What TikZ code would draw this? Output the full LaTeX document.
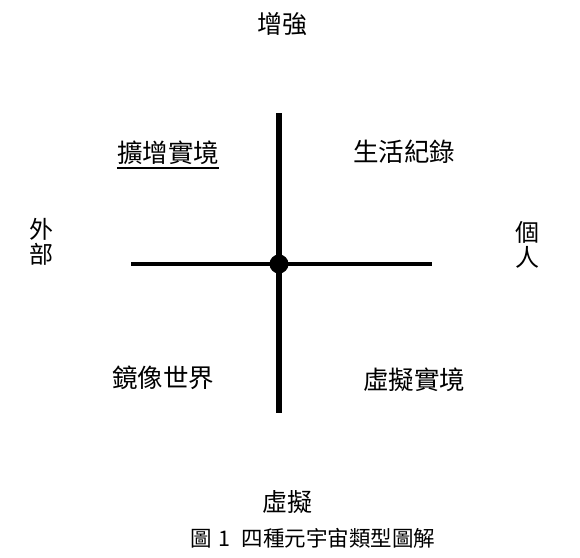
\documentclass[tikz,border=0pt]{standalone}
\usepackage{fontspec}
\newfontfamily\cjk{Noto Sans CJK TC}
\begin{document}
\begin{tikzpicture}[x=1pt,y=-1pt,
  lab/.style={font=\cjk\fontsize{25.5}{28}\selectfont, inner sep=0pt},
  axlab/.style={font=\cjk\fontsize{25}{26}\selectfont, inner sep=0pt, align=center},
  sidelab/.style={font=\cjk\fontsize{24}{25}\selectfont, inner sep=0pt, align=center},
  captext/.style={font=\cjk\fontsize{21.5}{23}\selectfont, inner sep=0pt}]
\useasboundingbox (0,0) rectangle (580,557);
\fill[white] (0,0) rectangle (580,557);
% axes
\coordinate (top) at (279,113);
\coordinate (bot) at (279,413);
\coordinate (lft) at (131,264);
\coordinate (rgt) at (432,264);
\coordinate (ctr) at (279,264);
\draw[line width=5.5pt] (top) -- (bot);
\draw[line width=4.2pt] (lft) -- (rgt);
\fill (ctr) circle (9.5);
% axis labels
\node[axlab] (up) at (282,24) {增強};
\node[axlab] (down) at (287,502) {虛擬};
\node[sidelab] (west) at (41,242) {外\\部};
\node[sidelab] (east) at (527,245) {個\\人};
% quadrant labels
\node[lab] (ar) at (168,153) {擴增實境};
\draw[line width=2pt] ([yshift=-3pt]ar.south west) -- ([yshift=-3pt]ar.south east);
\node[lab] (ll) at (404,152) {生活紀錄};
\node[lab] (mw) at (163,378) {鏡像世界};
\node[lab] (vr) at (414,380) {虛擬實境};
% caption
\node[captext] (caption) at (313,538) {圖\hspace{6pt}1\hspace{12pt}四種元宇宙類型圖解};
\end{tikzpicture}
\end{document}
